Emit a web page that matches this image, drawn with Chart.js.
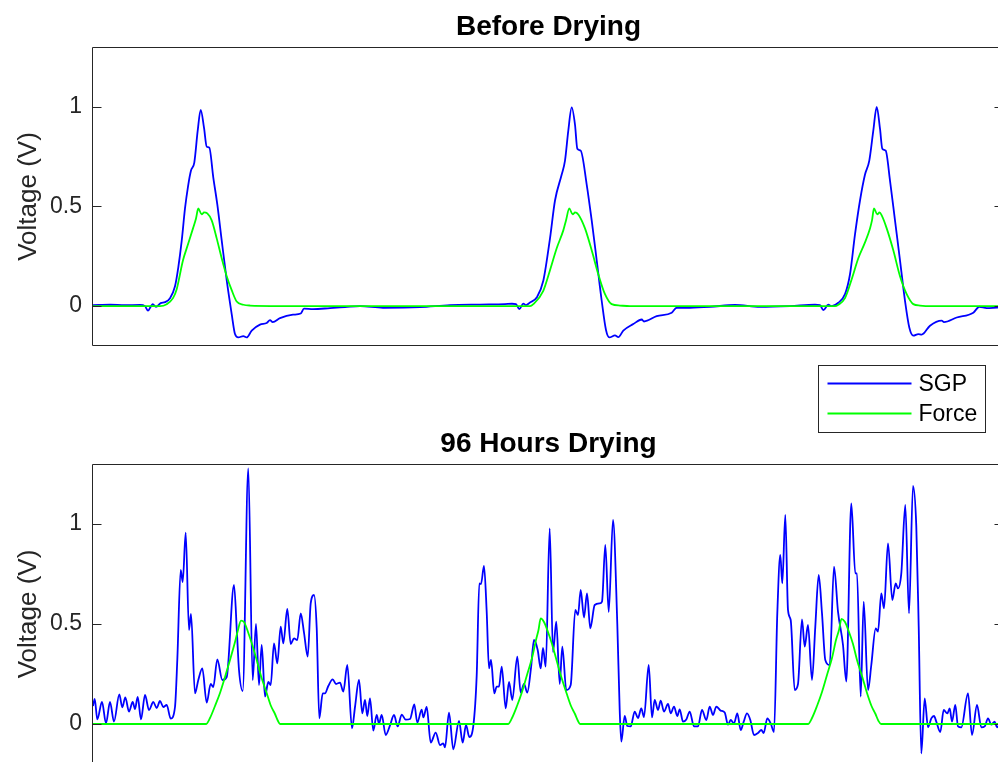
<!DOCTYPE html>
<html><head><meta charset="utf-8">
<script src="https://cdn.jsdelivr.net/npm/chart.js@4.4.1/dist/chart.umd.min.js"></script>
<style>
html,body{margin:0;padding:0;background:#fff;overflow:hidden;}
#wrap{position:relative;width:998px;height:762px;overflow:hidden;background:#fff;}
.box{position:absolute;left:0;width:1010px;}
#b1{top:0;height:356px;}
#b2{top:356px;height:420px;}
</style></head><body>
<div id="wrap"><div class="box" id="b1"><canvas id="c1"></canvas></div><div class="box" id="b2"><canvas id="c2"></canvas></div></div>
<script>
const titles = ['Before Drying', '96 Hours Drying'];
const seriesNames = ['SGP', 'Force'];
const yTitle = 'Voltage (V)';
const yTicks = [0, 0.5, 1];
const xRange = [0, 911];
const yRange = [-0.2, 1.3];

// ---- Before Drying ----
const topSgpX = [0,17,32,47,52,55,58,59.7,63,67.7,72,77,82,85.3,88.7,92,95,98,101.3,104.7,107.7,111,113.7,116.3,120.3,124.3,128.7,133.7,138.7,142,145.3,150.3,153.7,158.7,167,173.7,177,179.7,187,200,207.7,211,220,237,252,267,290,327,357,387,412,419,423,426.3,430.3,433,437,443.7,450.3,457,462,468.7,472,475.3,478.7,482,484.3,487.7,493.7,498.7,503.7,508.7,513,516.3,522,525.3,530.3,540.3,548.7,551,563.7,578.7,583.7,597,617,642,667,697,722,727,730.3,735.3,738.7,745.3,752,757,762,767,772,776.3,780.3,783.7,787,789.3,792.7,797,802,807,812,816.3,820.3,825.3,828.7,837,848.7,851,863.7,880.3,886.3,893.7,904,911];
const topSgpY = [0.005,0.007,0.005,0.006,0.0,-0.023,0.0,0.01,-0.004,0.015,0.02,0.04,0.1,0.195,0.327,0.49,0.6,0.68,0.72,0.88,0.985,0.895,0.8,0.795,0.645,0.51,0.33,0.13,-0.04,-0.14,-0.157,-0.15,-0.157,-0.123,-0.093,-0.085,-0.07,-0.08,-0.06,-0.043,-0.037,-0.012,-0.015,-0.01,-0.005,0.0,-0.008,-0.005,0.005,0.008,0.01,0.012,0.01,-0.015,0.013,0.005,0.018,0.043,0.127,0.34,0.53,0.66,0.73,0.88,0.997,0.91,0.79,0.78,0.61,0.43,0.23,0.027,-0.12,-0.157,-0.147,-0.155,-0.123,-0.09,-0.067,-0.077,-0.05,-0.033,-0.008,-0.008,-0.004,0.006,-0.004,0.0,0.007,0.005,-0.02,0.007,0.0,0.017,0.06,0.16,0.36,0.53,0.66,0.73,0.88,1.0,0.89,0.79,0.78,0.63,0.43,0.23,0.027,-0.107,-0.148,-0.14,-0.143,-0.098,-0.073,-0.08,-0.057,-0.033,-0.003,-0.01,-0.007,-0.006];
const topForceX = [0,67,73.7,80,83.7,90,95,100,103,105.3,108.7,111,114.3,118.7,123.7,128.7,133.7,138.7,143.7,150.3,157,207,437,440.3,450.3,457,463.7,470.3,473,476.3,479.7,482,485.3,492,498.7,505.3,512,518.7,527,537,742,745.3,752,758.7,765.3,772,777,779,781,784.3,786.5,788.7,793.7,800.3,807,813.7,820.3,827,837,911];
const topForceY = [0,0,0.01,0.04,0.085,0.23,0.31,0.39,0.44,0.49,0.46,0.47,0.465,0.43,0.34,0.24,0.15,0.08,0.023,0.007,0.003,0,0,0.01,0.077,0.18,0.29,0.38,0.43,0.49,0.46,0.47,0.46,0.39,0.28,0.16,0.06,0.01,0.003,0,0,0.007,0.04,0.135,0.24,0.32,0.39,0.43,0.49,0.46,0.47,0.455,0.39,0.28,0.15,0.06,0.01,0.003,0,0];

// ---- 96 Hours Drying ----
const botSgpX = [0,1.7,4.3,9,13,17,21,26.3,29.3,32.3,36,39.7,42,44.7,48,52,56,60.3,63.7,67,70.3,73.7,77.7,82,84.3,87.7,89.7,92.7,96,98,102,105.3,109.3,113.7,117.7,120.3,124.3,129.3,133.7,141,144,146,149.7,155.3,159.7,163,166,168.7,172,175.3,177.7,181,184.3,187.7,190.3,194.3,197.7,201,204.3,207.7,211,214.7,217.7,221,223.7,226.3,229.7,232,235.3,239.7,243,247,250.3,254.3,259,262,266,269.3,272,274.3,277,280.3,283.7,286,288.7,292.7,297,301,304.7,308.7,312.7,317,321.3,324.3,328.7,330.3,333.7,337.7,342.7,347,350.3,352,356,360.3,366,369.7,373,376.3,380.3,383.7,386.3,388,391,393.7,396,398,401.3,403.7,406,408.7,412.7,416,419.3,424.3,427.7,431,434.3,438,441,444.7,447.7,450,452.7,456.7,460,463.3,466.7,469.3,473.3,477.7,482.3,485,487.7,491,494,497.3,501.7,506.7,509,512.3,515.7,520,524.3,526.7,528.3,531.7,534.3,537.7,541.7,545,548.3,551,555.7,559,561.7,565,567.7,571,575,577.7,581,584.3,586.7,590,593.3,596.7,601,605,609,613.3,616.7,620,623.3,627.7,631.7,635,637.7,641,644.3,647.7,650.7,654,657.3,661,665,668.3,670.7,674.3,677.7,681,684.3,687.3,689.3,692.3,695,697.7,701.7,705,709,711.7,715,719,722.3,725.7,729,732.3,736.7,741,745,750,753.3,758.3,762.3,764,767.7,770.7,775,778.3,782.7,785,788.3,791,795,799.3,802.7,805,808.3,812.3,816,820,823.3,825.7,828.3,831.7,835,838.3,841,843.3,847.3,850.7,854.3,856.7,859,862.3,865,868.3,875,879,884,888.3,891.7,895,898.3,901.7,904,908];
const botSgpY = [0.09,0.125,0.023,0.11,0.003,0.11,0.012,0.148,0.083,0.133,0.062,0.11,0.075,0.135,0.023,0.145,0.07,0.11,0.08,0.115,0.085,0.095,0.027,0.085,0.32,0.77,0.71,0.957,0.47,0.55,0.153,0.22,0.278,0.107,0.2,0.185,0.323,0.22,0.235,0.695,0.45,0.27,0.165,1.278,0.22,0.5,0.195,0.395,0.137,0.21,0.195,0.403,0.303,0.487,0.403,0.575,0.4,0.428,0.42,0.553,0.457,0.337,0.603,0.645,0.48,0.028,0.153,0.153,0.19,0.223,0.2,0.207,0.162,0.295,-0.022,0.085,0.22,0.053,0.12,0.04,0.128,-0.033,0.045,0.002,0.045,-0.055,-0.007,0.045,-0.012,0.047,0.022,0.025,0.098,0.007,0.072,0.033,0.085,-0.093,-0.043,-0.105,-0.097,-0.117,0.057,-0.127,0.015,-0.093,-0.005,-0.065,-0.01,0.243,0.703,0.7,0.79,0.56,0.278,0.32,0.153,0.187,0.187,0.287,0.078,0.21,0.12,0.337,0.157,0.2,0.157,0.28,0.42,0.37,0.278,0.38,0.287,0.978,0.36,0.512,0.2,0.387,0.17,0.195,0.57,0.545,0.67,0.532,0.653,0.478,0.595,0.603,0.612,0.895,0.56,1.02,0.5,0.07,-0.088,0.04,-0.01,-0.012,0.062,0.03,0.078,0.035,0.295,0.033,0.12,0.07,0.117,0.062,0.1,0.053,0.087,0.04,0.073,0.012,0.023,0.062,-0.012,-0.012,0.07,0.02,0.087,0.045,0.087,0.067,0.057,-0.003,0.02,0.003,0.053,-0.03,0.012,0.053,0.02,-0.055,-0.045,-0.03,-0.045,0.028,0.003,-0.04,0.553,0.845,0.703,1.045,0.57,0.52,0.17,0.2,0.523,0.387,0.495,0.22,0.487,0.745,0.553,0.32,0.295,0.787,0.562,0.395,0.212,1.103,0.753,0.753,0.137,0.612,0.17,0.295,0.478,0.462,0.653,0.578,0.903,0.62,0.703,0.678,0.753,1.095,0.553,1.19,0.987,0.487,-0.147,0.128,-0.017,0.028,0.04,0.012,-0.04,0.07,0.053,0.078,0.012,0.095,-0.012,-0.017,0.153,-0.055,0.095,-0.017,-0.012,0.028,-0.003,0.012,-0.017,0.02];
const botForceX = [0,113,117,122,127,132,137,142,145,148,151,155,159,163.7,168,173.7,178,182,185,187,415,419,424,429,434,439,443,445.5,447.7,451,455,459,463.5,468,473.5,478,482,485,487,715,719,724,729,734,739,743,746,748.5,752,756,760,764,769,774,778.5,782.5,785.5,788,911];
const botForceY = [0,0,0.03,0.09,0.155,0.235,0.32,0.41,0.47,0.517,0.51,0.46,0.4,0.32,0.24,0.155,0.09,0.05,0.015,0,0,0.03,0.09,0.16,0.245,0.33,0.42,0.47,0.528,0.51,0.46,0.4,0.32,0.24,0.155,0.09,0.05,0.015,0,0,0.03,0.09,0.16,0.245,0.33,0.42,0.47,0.526,0.51,0.46,0.4,0.32,0.24,0.155,0.09,0.05,0.015,0,0];

const FONT = '"Liberation Sans", Arial, Helvetica, sans-serif';
const AXC = '#262626';
const COLORS = ['#0000ff', '#00ff00'];

const pts = (xs, ys) => xs.map((x, i) => ({x, y: ys[i]}));

const frameTicks = {
  id: 'frameTicks',
  afterDatasetsDraw(chart) {
    const {ctx, chartArea: a, scales: {y}} = chart;
    ctx.save();
    ctx.strokeStyle = AXC;
    ctx.lineWidth = 1;
    const L = Math.round(a.left) - 0.5, R = Math.round(a.right) - 0.5;
    const T = Math.round(a.top) + 0.5, B = Math.round(a.bottom) - 0.5;
    ctx.beginPath();
    ctx.moveTo(L, T); ctx.lineTo(R, T); ctx.lineTo(R, B); ctx.lineTo(L, B); ctx.closePath();
    ctx.stroke();
    ctx.beginPath();
    y.ticks.forEach(t => {
      const py = Math.round(y.getPixelForValue(t.value)) + 0.5;
      ctx.moveTo(L, py); ctx.lineTo(L + 9, py);
      ctx.moveTo(R, py); ctx.lineTo(R - 9, py);
    });
    ctx.stroke();
    ctx.restore();
  }
};

const legendBox = {
  id: 'legendBox',
  afterDraw(chart) {
    const {ctx, chartArea: a} = chart;
    const left = 818.5;
    const top = Math.round(a.top) - 99 + 0.5;
    const w = 167, h = 67;
    ctx.save();
    ctx.fillStyle = '#fff';
    ctx.fillRect(left, top, w, h);
    ctx.strokeStyle = AXC;
    ctx.lineWidth = 1;
    ctx.strokeRect(left, top, w, h);
    ctx.font = '23px ' + FONT;
    ctx.textBaseline = 'middle';
    ctx.textAlign = 'left';
    chart.data.datasets.forEach((ds, i) => {
      const yy = top + 18 + i * 30;
      ctx.strokeStyle = ds.borderColor;
      ctx.lineWidth = ds.borderWidth;
      ctx.beginPath(); ctx.moveTo(left + 9, yy); ctx.lineTo(left + 93, yy); ctx.stroke();
      ctx.fillStyle = '#000';
      ctx.fillText(ds.label, left + 100, yy + 1);
    });
    ctx.restore();
  }
};

function makeChart(id, title, sx, sy, fx, fy, padTop, padBottom, extra) {
  return new Chart(document.getElementById(id), {
    type: 'line',
    data: {
      datasets: [
        {label: seriesNames[0], data: pts(sx, sy), borderColor: COLORS[0], borderWidth: 1.8, pointRadius: 0, cubicInterpolationMode: 'monotone', fill: false, order: 1},
        {label: seriesNames[1], data: pts(fx, fy), borderColor: COLORS[1], borderWidth: 1.8, pointRadius: 0, cubicInterpolationMode: 'monotone', fill: false, order: 0}
      ]
    },
    options: {
      responsive: true, maintainAspectRatio: false, animation: false, devicePixelRatio: 1,
      layout: {padding: {top: padTop, left: 0, right: 6, bottom: padBottom}},
      plugins: {
        legend: {display: false},
        tooltip: {enabled: false},
        title: {display: true, fullSize: false, text: title, color: '#000', font: {family: FONT, size: 28, weight: 'bold', lineHeight: '32px'}, padding: {top: 11, bottom: 4}}
      },
      scales: {
        x: {type: 'linear', display: false, min: xRange[0], max: xRange[1]},
        y: {
          type: 'linear', min: yRange[0], max: yRange[1],
          grid: {display: false, drawTicks: false},
          border: {display: false},
          afterBuildTicks: s => { s.ticks = yTicks.map(v => ({value: v})); },
          afterFit: s => { s.width = 93; s.paddingTop = 0; s.paddingBottom = 0; },
          ticks: {color: AXC, font: {family: FONT, size: 23}, padding: 11, callback: v => String(v)},
          title: {display: true, text: yTitle, color: AXC, font: {family: FONT, size: 26}, padding: {top: 13, bottom: 0}}
        }
      }
    },
    plugins: [frameTicks].concat(extra)
  });
}

makeChart('c1', titles[0], topSgpX, topSgpY, topForceX, topForceY, 0, 10, []);
makeChart('c2', titles[1], botSgpX, botSgpY, botForceX, botForceY, 61, 12, [legendBox]);
</script>
</body></html>
